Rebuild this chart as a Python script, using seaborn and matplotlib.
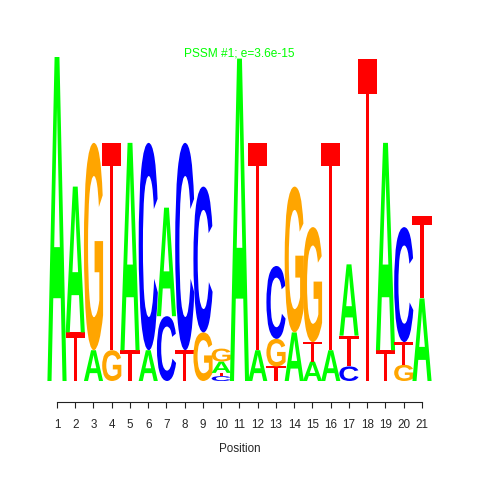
import matplotlib
matplotlib.use("Agg")
import matplotlib.pyplot as plt
import seaborn as sns
from matplotlib.textpath import TextPath
from matplotlib.patches import PathPatch
from matplotlib.font_manager import FontProperties
from matplotlib.transforms import Affine2D

# ---- data (bits), each stack listed bottom -> top ----
positions = list(range(1, 22))
stack_letters = ["A", "TA", "AG", "GT", "TA", "AC", "CA", "TC", "GC", "CTAG",
                 "A", "AT", "TGC", "AG", "ATG", "AT", "CTA", "T", "TA", "GTC", "AT"]
stack_heights = [
    [2.00],
    [0.30, 0.90],
    [0.19, 1.28],
    [0.19, 1.28],
    [0.19, 1.28],
    [0.19, 1.28],
    [0.40, 0.67],
    [0.19, 1.28],
    [0.30, 0.90],
    [0.03, 0.02, 0.07, 0.08],
    [1.99],
    [0.19, 1.28],
    [0.09, 0.17, 0.45],
    [0.30, 0.90],
    [0.12, 0.12, 0.71],
    [0.19, 1.28],
    [0.09, 0.19, 0.44],
    [1.99],
    [0.19, 1.28],
    [0.10, 0.14, 0.71],
    [0.51, 0.51],
]
title_text = "PSSM #1; e=3.6e-15"
x_label = "Position"
letter_colors = {"A": "#00FF00", "C": "#0000FF", "G": "#FFA500", "T": "#FF0000"}

sns.set_style("white")
plt.rcParams["font.family"] = ["Liberation Sans", "DejaVu Sans"]

fig = plt.figure(figsize=(4.8, 4.8), dpi=100)
ax = fig.add_axes([38.75 / 480, 99 / 480, 401.5 / 480, 324 / 480])
ax.set_xlim(0, 22)
ax.set_ylim(0, 2.0)

letter_weights = {"A": "bold", "C": "bold", "G": "bold", "T": "normal"}
glyphs = {}
for L in "ACGT":
    fp = FontProperties(family="Liberation Sans", weight=letter_weights[L])
    glyphs[L] = TextPath((0, 0), L, size=1, prop=fp)

width = 1.05
for pos, letters, heights in zip(positions, stack_letters, stack_heights):
    y = 0.0
    for L, h in zip(letters, heights):
        p = glyphs[L]
        ext = p.get_extents()
        tr = (Affine2D()
              .translate(-ext.x0, -ext.y0)
              .scale(width / ext.width, h / ext.height)
              .translate(pos - width / 2, y))
        patch = PathPatch(tr.transform_path(p), facecolor=letter_colors[L],
                          edgecolor="none", lw=0)
        ax.add_patch(patch)
        y += h

sns.despine(ax=ax, left=True, offset={"bottom": 15})
ax.spines["bottom"].set_bounds(1, 21)
ax.spines["bottom"].set_color("#222222")
ax.spines["bottom"].set_linewidth(0.8)
ax.set_xticks(positions)
ax.set_xticklabels([str(p) for p in positions])
ax.set_yticks([])
ax.tick_params(axis="x", direction="out", length=4.5, width=0.8, color="#222222",
               labelsize=8.4, pad=7.5, bottom=True)
ax.set_xlabel(x_label, fontsize=8.4, labelpad=9)
fig.text(239.5 / 480, 1 - 53 / 480, title_text, color="#00FF00", fontsize=8.6,
         ha="center", va="center")

fig.savefig("out.png", dpi=100)
